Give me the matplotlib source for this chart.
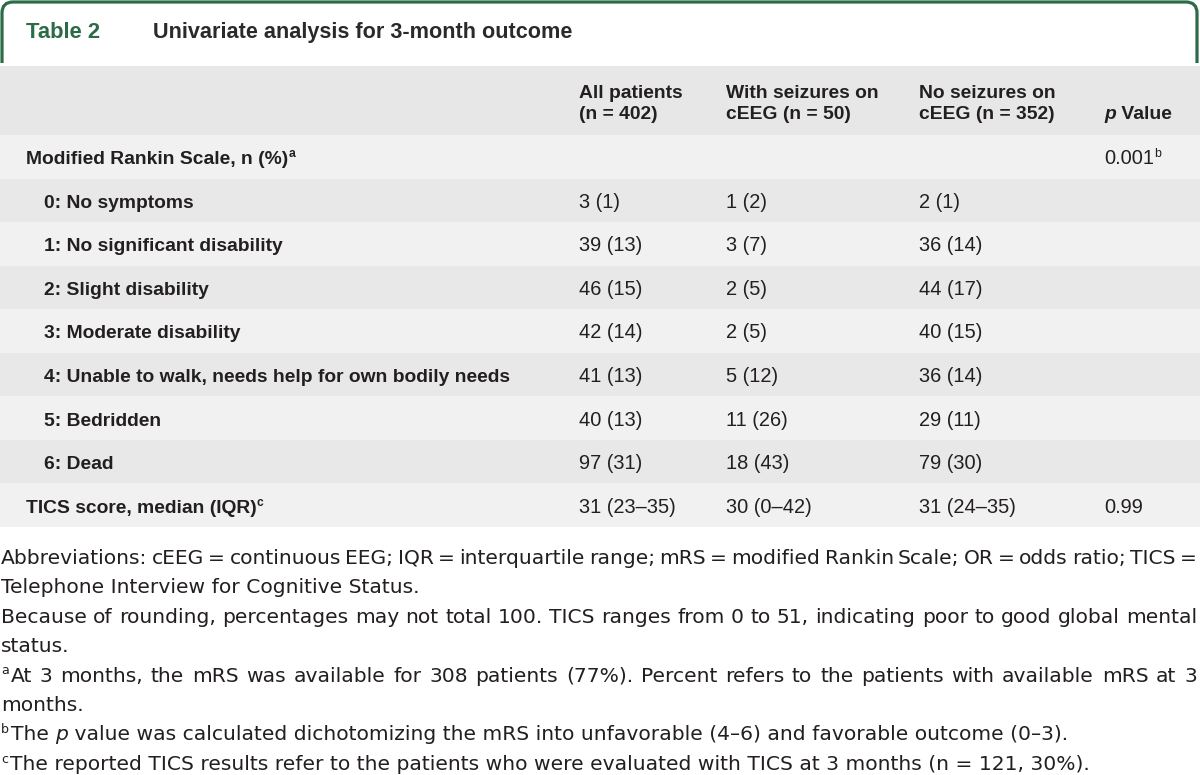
import matplotlib
matplotlib.use("Agg")
import matplotlib.pyplot as plt
from matplotlib.patches import Rectangle, FancyBboxPatch

# ---------------- data ----------------
title_label = "Table 2"
title_text = "Univariate analysis for 3-month outcome"

col_headers = [
    ["All patients", "(n = 402)"],
    ["With seizures on", "cEEG (n = 50)"],
    ["No seizures on", "cEEG (n = 352)"],
]
p_header = ("p", " Value")

row_labels = [
    "Modified Rankin Scale, n (%)",
    "0: No symptoms",
    "1: No significant disability",
    "2: Slight disability",
    "3: Moderate disability",
    "4: Unable to walk, needs help for own bodily needs",
    "5: Bedridden",
    "6: Dead",
    "TICS score, median (IQR)",
]
row_label_sup = ["a", "", "", "", "", "", "", "", "c"]
row_indented = [False, True, True, True, True, True, True, True, False]

all_patients = ["", "3 (1)", "39 (13)", "46 (15)", "42 (14)", "41 (13)", "40 (13)", "97 (31)", "31 (23–35)"]
with_seizures = ["", "1 (2)", "3 (7)", "2 (5)", "2 (5)", "5 (12)", "11 (26)", "18 (43)", "30 (0–42)"]
no_seizures = ["", "2 (1)", "36 (14)", "44 (17)", "40 (15)", "36 (14)", "29 (11)", "79 (30)", "31 (24–35)"]
p_values = ["0.001", "", "", "", "", "", "", "", "0.99"]
p_value_sup = ["b", "", "", "", "", "", "", "", ""]

footnotes = [
    ("", "Abbreviations: cEEG = continuous EEG; IQR = interquartile range; mRS = modified Rankin Scale; OR = odds ratio; TICS =", True),
    ("", "Telephone Interview for Cognitive Status.", False),
    ("", "Because of rounding, percentages may not total 100. TICS ranges from 0 to 51, indicating poor to good global mental", True),
    ("", "status.", False),
    ("a", "At 3 months, the mRS was available for 308 patients (77%). Percent refers to the patients with available mRS at 3", True),
    ("", "months.", False),
    ("b", "The |p| value was calculated dichotomizing the mRS into unfavorable (4–6) and favorable outcome (0–3).", False),
    ("c", "The reported TICS results refer to the patients who were evaluated with TICS at 3 months (n = 121, 30%).", False),
]

# ---------------- style ----------------
W, H = 1200, 775
FONT = "Liberation Sans"
FN_FONT = "DejaVu Sans"
SIZE = 13.9
VAL_SIZE = 14.4
TXT = "#231f20"
GREEN = "#2b6b47"
HEAD_BG = "#e6e7e6"
LIGHT_BG = "#f1f1f1"
DARK_BG = "#e7e8e7"

fig = plt.figure(figsize=(W / 100, H / 100), dpi=100)
ax = fig.add_axes([0, 0, 1, 1])
ax.set_xlim(0, W)
ax.set_ylim(H, 0)
ax.axis("off")
renderer = fig.canvas.get_renderer()

KIND = {
    "r": ("normal", "normal"),
    "b": ("bold", "normal"),
    "i": ("normal", "italic"),
    "bi": ("bold", "italic"),
}


def text_width(s, weight, style, size, family=FONT):
    t1 = ax.text(0, 0, s + "|", fontsize=size, family=family, weight=weight, style=style)
    t2 = ax.text(0, 0, "|", fontsize=size, family=family, weight=weight, style=style)
    w = t1.get_window_extent(renderer).width - t2.get_window_extent(renderer).width
    t1.remove()
    t2.remove()
    return w


def draw_segs(x, y, segs, size=SIZE, color=TXT, sup_weight="normal", family=FONT):
    """Draw consecutive text segments; y is baseline."""
    size_px = size * 100 / 72
    for s, kind in segs:
        if kind == "sup":
            ssize = size * 0.62
            ax.text(x, y - 0.36 * size_px, s, fontsize=ssize, family=family,
                    weight=sup_weight, color=color, va="baseline", ha="left", zorder=5)
            x += text_width(s, sup_weight, "normal", ssize, family) + 2
        else:
            weight, style = KIND[kind]
            ax.text(x, y, s, fontsize=size, family=family, weight=weight, style=style,
                    color=color, va="baseline", ha="left", zorder=5)
            x += text_width(s, weight, style, size, family)
    return x


# ---------------- title tab ----------------
tab = FancyBboxPatch((2, 2), 1195, 90, boxstyle="round,pad=0,rounding_size=11",
                     fc="white", ec=GREEN, lw=2.3, zorder=1)
ax.add_patch(tab)
ax.add_patch(Rectangle((0, 63), W, 4, fc="white", ec="none", zorder=2))
ax.text(26, 38, title_label, fontsize=15.8, family=FONT, weight="bold", color=GREEN,
        va="baseline", zorder=5)
ax.text(153, 38, title_text, fontsize=15.6, family=FONT, weight="bold", color="#2a2a2a",
        va="baseline", zorder=5)

# ---------------- header band ----------------
HEAD_TOP, HEAD_BOT = 66, 135
ax.add_patch(Rectangle((0, HEAD_TOP), W, HEAD_BOT - HEAD_TOP, fc=HEAD_BG, ec="none", zorder=2))
col_x = [579, 726, 919, 1104]
for cx, lines in zip(col_x[:3], col_headers):
    draw_segs(cx, 98, [(lines[0], "b")])
    draw_segs(cx, 119, [(lines[1], "b")])
draw_segs(col_x[3], 119, [(p_header[0], "bi"), (p_header[1], "b")])

# ---------------- body rows ----------------
ROW_H = (527 - 135) / len(row_labels)
for i, label in enumerate(row_labels):
    top = HEAD_BOT + i * ROW_H
    bg = LIGHT_BG if i % 2 == 0 else DARK_BG
    ax.add_patch(Rectangle((0, top), W, ROW_H, fc=bg, ec="none", zorder=2))
    base = top + ROW_H / 2 + 7.5
    lx = 44 if row_indented[i] else 26
    segs = [(label, "b")]
    if row_label_sup[i]:
        segs.append((row_label_sup[i], "sup"))
    draw_segs(lx, base, segs, sup_weight="bold")
    for cx, col in zip(col_x[:3], [all_patients, with_seizures, no_seizures]):
        if col[i]:
            draw_segs(cx, base, [(col[i], "r")], size=VAL_SIZE)
    if p_values[i]:
        segs = [(p_values[i], "r")]
        if p_value_sup[i]:
            segs.append((p_value_sup[i], "sup"))
        draw_segs(col_x[3], base, segs, size=VAL_SIZE)

# ---------------- footnotes ----------------
# pick footnote size so that the last (unjustified) line ends where it does in the original
ref_size = 14.0
last_w = text_width(footnotes[-1][1], "normal", "normal", ref_size, FN_FONT)
FN_SIZE = ref_size * (1094 - 12) / last_w
FN_X0, FN_X1 = 1, 1197
for k, (sup, text, justify) in enumerate(footnotes):
    y = 564 + k * 29.4
    x = FN_X0
    if sup:
        x = draw_segs(x, y, [(sup, "sup")], size=FN_SIZE, family=FN_FONT)
    if "|" in text:
        parts = text.split("|")
        segs = [(parts[0], "r"), (parts[1], "i"), (parts[2], "r")]
        draw_segs(x, y, segs, size=FN_SIZE, family=FN_FONT)
    elif justify:
        words = text.split(" ")
        widths = [text_width(w, "normal", "normal", FN_SIZE, FN_FONT) for w in words]
        gap = (FN_X1 - x - sum(widths)) / (len(words) - 1)
        for w, wd in zip(words, widths):
            ax.text(x, y, w, fontsize=FN_SIZE, family=FN_FONT, color=TXT,
                    va="baseline", ha="left", zorder=5)
            x += wd + gap
    else:
        draw_segs(x, y, [(text, "r")], size=FN_SIZE, family=FN_FONT)

fig.savefig("out.png", dpi=100, facecolor="white")
